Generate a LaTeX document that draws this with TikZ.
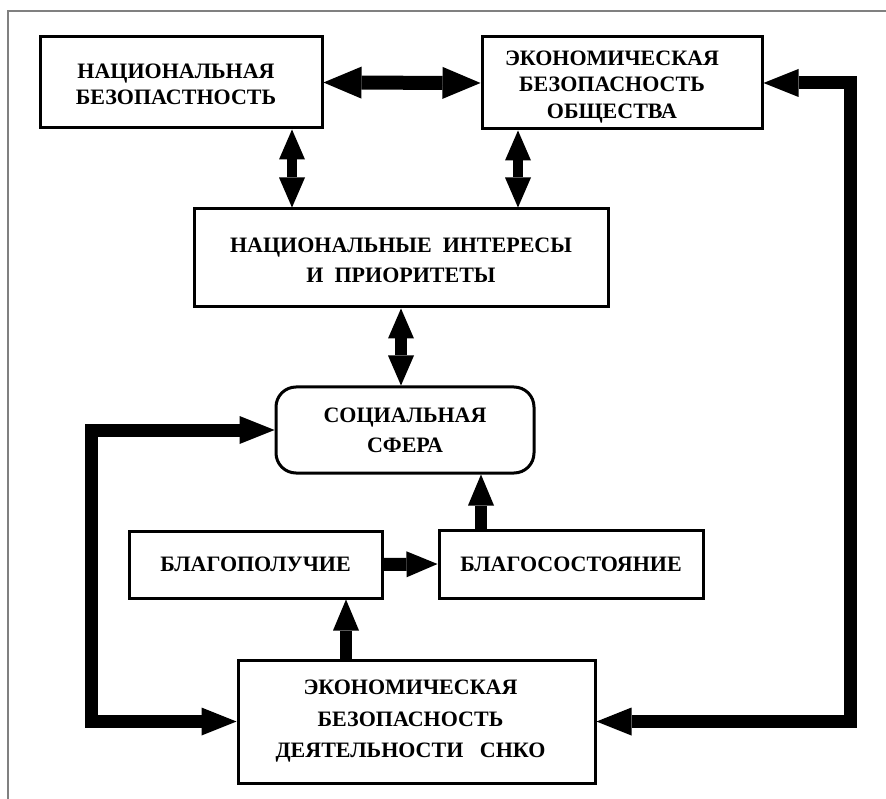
\documentclass[tikz,border=0pt]{standalone}
\usepackage{fontspec}
\setmainfont{Liberation Serif}
\usetikzlibrary{arrows.meta}
\begin{document}
\begin{tikzpicture}[x=1pt,y=-1pt,
  box/.style={draw, line width=3pt, inner sep=0pt},
  lbl/.style={align=center, inner sep=0pt, text=black},
  ftA/.style={font=\fontsize{22}{26.5}\selectfont\bfseries},
  ftB/.style={font=\fontsize{22}{30}\selectfont\bfseries},
  ftC/.style={font=\fontsize{22}{31.5}\selectfont\bfseries},
  fatline/.style={line width=13pt, line join=miter},
  bigtip/.tip={Triangle[length=35pt,width=28pt,line width=0pt]},
  midtip/.tip={Triangle[length=31pt,width=26pt,line width=0pt]},
  dbltip/.tip={Triangle[length=30pt,width=26pt,line width=0pt]},
  wide/.tip={Triangle[length=38pt,width=32pt,line width=0pt]},
  framel/.style={draw=black!50, line width=1.5pt}
]
\useasboundingbox (0,0) rectangle (886,799);
\fill[white] (0,0) rectangle (886,799);
% frame
\coordinate (F1) at (8,11);
\coordinate (F2) at (886,11);
\coordinate (F3) at (8,799);
\draw[framel] (F2) -- (F1) -- (F3);

% boxes
\node[box, minimum width=282pt, minimum height=91pt] (NB) at (181,82.5) {};
\node[lbl, ftA] (NBt) at ([xshift=-5pt,yshift=-2pt]NB.center) {НАЦИОНАЛЬНАЯ\\БЕЗОПАСТНОСТЬ};
\node[box, minimum width=280pt, minimum height=92pt] (EBO) at (622,83) {};
\node[lbl, ftA] (EBOt) at ([xshift=-10pt,yshift=-4pt]EBO.center) {ЭКОНОМИЧЕСКАЯ\\БЕЗОПАСНОСТЬ\\ОБЩЕСТВА};
\node[box, minimum width=414pt, minimum height=98pt] (NIP) at (401,258) {};
\node[lbl, ftB] (NIPt) at ([yshift=-2pt]NIP.center) {НАЦИОНАЛЬНЫЕ~~ИНТЕРЕСЫ\\И~~ПРИОРИТЕТЫ};
\node[box, rounded corners=20pt, minimum width=258pt, minimum height=86pt] (SF) at (405,430) {};
\node[lbl, ftB] (SFt) at (SF.center) {СОЦИАЛЬНАЯ\\СФЕРА};
\node[box, minimum width=253pt, minimum height=67pt] (BP) at (255.5,564.5) {};
\node[lbl, ftA] (BPt) at (BP.center) {БЛАГОПОЛУЧИЕ};
\node[box, minimum width=264pt, minimum height=68pt] (BS) at (571,564) {};
\node[lbl, ftA] (BSt) at (BS.center) {БЛАГОСОСТОЯНИЕ};
\node[box, minimum width=357pt, minimum height=123pt] (EBD) at (416.5,721.5) {};
\node[lbl, ftC] (EBDt) at ([xshift=-6pt]EBD.center) {ЭКОНОМИЧЕСКАЯ\\БЕЗОПАСНОСТЬ\\ДЕЯТЕЛЬНОСТИ~~~СНКО};

% helper x positions
\coordinate (X1) at (292,0);
\coordinate (X2) at (518,0);
\coordinate (X3) at (481,0);
\coordinate (X4) at (346,0);
\coordinate (LX) at (91,0);
\coordinate (RX) at (850,0);

% connectors
\draw[line width=14pt, wide-wide] (NB.east) -- (EBO.west);
\draw[line width=10pt, dbltip-dbltip] (NB.south -| X1) -- (NIP.north -| X1);
\draw[line width=10pt, dbltip-dbltip] (EBO.south -| X2) -- (NIP.north -| X2);
\draw[line width=12pt, dbltip-dbltip] (NIP.south) -- (NIP.south |- SF.north);
\draw[line width=12pt, -midtip] (BS.north -| X3) -- (SF.south -| X3);
\draw[line width=13pt, -midtip] (BP.east) -- (BS.west);
\draw[line width=12pt, -midtip] (EBD.north -| X4) -- (BP.south -| X4);
\draw[fatline, bigtip-bigtip] (SF.west) -- (SF.west -| LX) -- (EBD.west -| LX) -- (EBD.west);
\draw[fatline, bigtip-bigtip] (EBO.east) -- (EBO.east -| RX) -- (EBD.east -| RX) -- (EBD.east);
\end{tikzpicture}
\end{document}
